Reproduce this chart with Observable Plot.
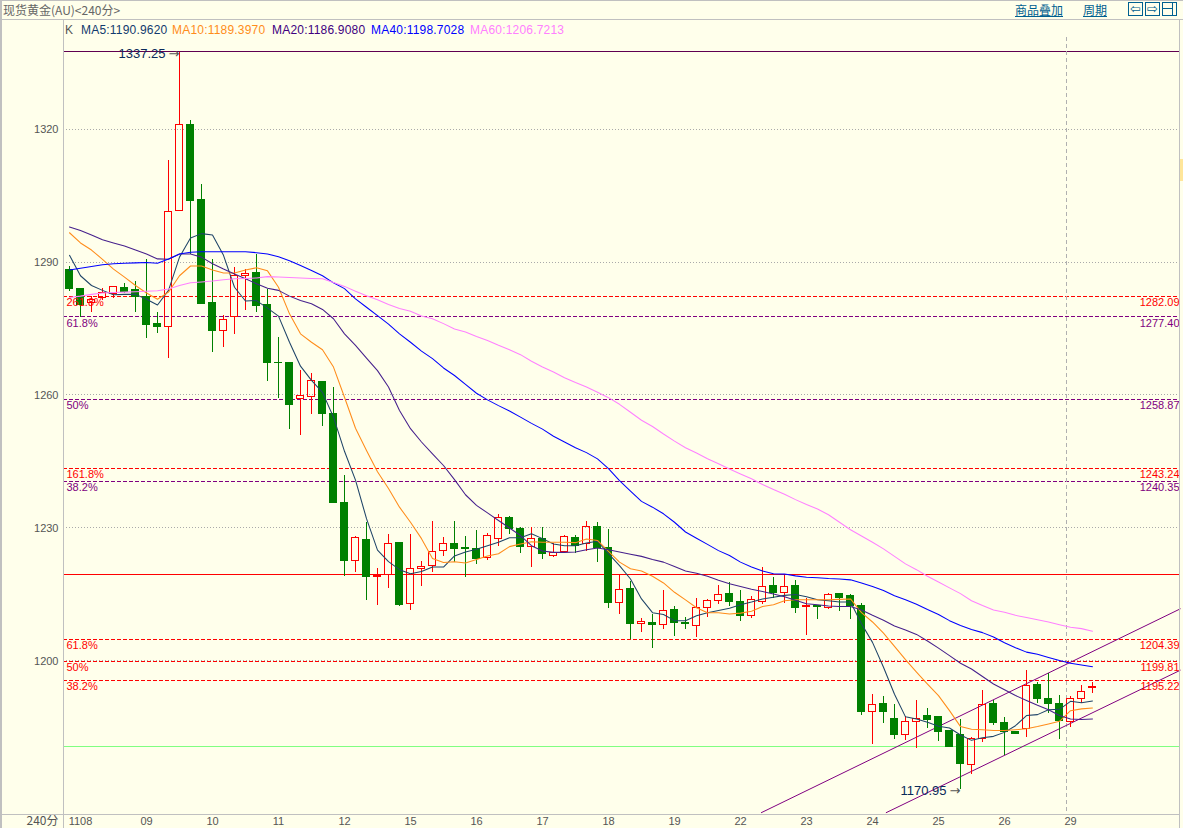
<!DOCTYPE html>
<html><head><meta charset="utf-8">
<script src="https://cdn.jsdelivr.net/npm/d3@7"></script>
<script src="https://cdn.jsdelivr.net/npm/@observablehq/plot@0.6"></script>
<style>
html,body{margin:0;padding:0;background:#ffffeb;overflow:hidden;width:1183px;height:828px;position:relative;font-family:"Liberation Sans",sans-serif}
#head{position:relative;height:19px;font-size:12px;color:#666}
.abs{position:absolute;white-space:nowrap}
.ma{position:absolute;top:23px;font-size:12px;line-height:14px;letter-spacing:.2px;white-space:nowrap}
.link{position:absolute;top:2px;font:12px/15px "Noto Sans CJK SC",sans-serif;color:#006090;text-decoration:underline}
.btn{position:absolute;top:2px;width:13px;height:12px;border:1px solid #006090;color:#006090;font:13px/12px "DejaVu Sans",sans-serif;text-align:center}
.chrome{position:absolute;background:#c0c0c0}
svg{display:block}
</style></head><body>
<div id="head">
  <span class="abs" style="left:3px;top:2px;font:12px/15px 'Noto Sans CJK SC',sans-serif;color:#666">现货黄金(AU)&lt;240分&gt;</span>
  <span class="link" style="left:1015px">商品叠加</span>
  <span class="link" style="left:1083px">周期</span>
  <div class="btn" style="left:1128px">⇦</div>
  <div class="btn" style="left:1145px">⇨</div>
  <div class="btn" style="left:1162px"><div style="position:absolute;left:0;top:5px;width:9px;height:1px;background:#006090"></div><div style="position:absolute;left:9px;top:0;width:1px;height:12px;background:#006090"></div></div>
</div>
<div id="chart"></div>
<div class="chrome" style="left:0;top:0;width:2px;height:828px"></div>
<div class="chrome" style="left:0;top:0;width:1183px;height:1px"></div>
<div class="chrome" style="left:0;top:19px;width:1183px;height:1px"></div>
<div class="chrome" style="left:63px;top:20px;width:1px;height:808px"></div>
<div class="chrome" style="left:2px;top:814px;width:1178px;height:1px"></div>
<div class="chrome" style="left:1179px;top:20px;width:1px;height:808px"></div>
<div class="chrome" style="left:1180px;top:159px;width:3px;height:22px;background:#ffe69a"></div>
<script>
const open=[1288.2,1284.0,1280.7,1281.9,1282.8,1284.2,1283.7,1282.2,1276.1,1275.3,
1301.5,1320.8,1303.9,1280.8,1274.5,1277.5,1286.8,1287.5,1280.4,1267.3,
1267.3,1259.0,1259.5,1263.0,1255.8,1235.7,1222.5,1227.2,1218.9,1219.4,
1226.6,1212.8,1220.8,1221.5,1224.8,1226.5,1225.4,1225.3,1223.2,1227.5,
1232.3,1229.7,1225.8,1227.6,1223.6,1224.6,1227.8,1226.4,1230.3,1225.5,
1213.1,1216.3,1208.4,1208.6,1208.2,1211.4,1208.5,1208.0,1211.9,1213.6,
1215.0,1213.4,1210.1,1213.4,1217.0,1215.3,1217.0,1212.1,1212.4,1211.9,
1215.0,1214.7,1212.3,1188.5,1190.4,1186.9,1183.3,1186.3,1187.5,1187.3,
1184.1,1183.4,1176.5,1182.4,1190.2,1186.1,1184.0,1184.7,1194.5,1191.5,
1190.2,1186.3,1191.5,1193.8];
const high=[1289.0,1284.0,1282.3,1284.1,1284.4,1285.2,1285.6,1290.5,1278.6,1313.0,
1337.25,1321.9,1307.5,1290.5,1278.0,1288.7,1288.4,1291.8,1283.9,1272.9,
1267.3,1265.5,1264.8,1263.0,1261.8,1241.8,1228.1,1231.3,1220.8,1228.5,
1226.8,1228.5,1222.4,1231.5,1227.9,1231.5,1228.1,1229.4,1228.8,1233.0,
1232.6,1230.0,1230.0,1230.0,1226.4,1228.3,1228.3,1231.5,1231.2,1229.6,
1219.4,1217.9,1209.6,1210.5,1216.0,1212.3,1209.7,1214.0,1213.9,1217.0,
1217.6,1216.0,1214.5,1221.0,1218.8,1219.6,1218.2,1214.2,1212.5,1215.2,
1215.0,1215.1,1212.9,1192.4,1192.1,1190.2,1187.5,1191.1,1189.3,1187.5,
1184.1,1186.7,1182.8,1193.3,1191.2,1187.2,1184.0,1197.9,1195.1,1197.2,
1192.2,1192.1,1194.5,1195.1];
const low=[1283.4,1277.5,1278.7,1281.3,1281.8,1282.8,1278.6,1272.7,1273.9,1268.3,
1301.5,1291.8,1280.5,1269.6,1270.8,1273.6,1279.1,1278.7,1263.1,1259.1,
1252.3,1250.8,1255.7,1253.0,1235.6,1219.1,1220.0,1213.6,1212.5,1216.4,
1212.3,1211.4,1216.8,1220.0,1223.6,1222.3,1218.9,1221.8,1222.7,1225.8,
1228.5,1224.3,1221.2,1222.9,1223.4,1224.2,1224.2,1224.7,1222.3,1211.9,
1210.6,1204.8,1206.5,1202.9,1207.2,1205.6,1207.2,1205.3,1209.7,1212.7,
1212.4,1208.8,1209.5,1212.8,1214.2,1213.0,1210.8,1205.8,1209.4,1211.7,
1211.2,1209.4,1187.7,1181.2,1185.9,1182.3,1182.1,1180.3,1184.7,1181.8,
1180.6,1170.95,1174.5,1181.7,1185.45,1178.7,1183.6,1182.8,1190.3,1188.2,
1182.4,1185.1,1190.5,1192.7];
const close=[1283.8,1280.4,1281.5,1283.0,1284.4,1283.3,1282.1,1275.7,1275.3,1301.3,
1320.9,1303.7,1280.5,1274.4,1276.9,1286.8,1287.3,1280.0,1267.2,1267.2,
1257.7,1259.7,1263.1,1255.7,1235.6,1222.5,1227.8,1218.9,1219.2,1226.4,
1212.7,1220.8,1221.2,1224.6,1226.4,1225.2,1225.2,1223.1,1228.2,1232.3,
1229.7,1225.7,1227.6,1224.2,1224.3,1228.0,1226.0,1230.2,1225.5,1213.0,
1216.0,1208.3,1208.8,1208.1,1211.3,1208.5,1208.3,1211.9,1213.6,1214.9,
1213.2,1210.1,1213.8,1216.7,1215.3,1216.7,1211.9,1212.4,1212.1,1214.9,
1214.3,1212.4,1188.5,1190.1,1188.4,1183.2,1186.3,1186.9,1186.6,1183.9,
1180.6,1176.7,1182.4,1190.1,1186.1,1183.9,1183.6,1194.4,1191.4,1190.2,
1186.4,1191.5,1193.0,1194.1];
const ma5=[1291.5,1286.9,1284.7,1283.6,1282.6,1282.7,1282.7,1281.6,1280.3,1283.6,
1291.1,1295.4,1296.4,1296.1,1291.5,1284.3,1281.2,1281.3,1279.6,1277.8,
1271.9,1266.5,1263.3,1260.6,1255.0,1247.3,1240.8,1232.1,1225.0,1222.4,
1220.6,1219.7,1220.2,1221.2,1221.2,1223.7,1224.6,1225.2,1226.0,1226.8,
1227.8,1227.8,1228.7,1227.6,1226.4,1226.0,1226.0,1226.6,1227.0,1224.2,
1221.5,1218.5,1214.0,1210.9,1210.5,1209.1,1209.1,1210.2,1210.9,1211.4,
1211.9,1212.7,1213.3,1214.0,1214.4,1214.8,1215.0,1214.5,1213.8,1213.6,
1213.3,1213.3,1208.4,1204.2,1198.6,1192.5,1187.4,1186.9,1186.2,1185.3,
1184.9,1183.3,1182.1,1182.7,1183.0,1183.9,1185.4,1187.7,1187.9,1189.0,
1189.1,1190.9,1190.6,1190.96];
const ma10=[1296.6,1294.3,1292.7,1290.6,1288.4,1286.6,1284.7,1283.0,1281.6,1283.2,
1286.9,1289.1,1289.1,1288.2,1287.5,1287.5,1288.2,1288.7,1288.0,1284.3,
1278.3,1273.8,1271.9,1270.2,1266.3,1259.5,1252.5,1247.5,1242.7,1238.9,
1234.7,1231.3,1227.6,1223.1,1222.2,1222.4,1222.1,1222.9,1223.7,1224.2,
1225.8,1226.4,1226.9,1226.8,1226.8,1226.8,1226.7,1227.5,1227.2,1224.7,
1222.3,1220.8,1220.3,1219.1,1217.6,1215.5,1213.8,1212.0,1210.9,1210.9,
1210.6,1210.8,1211.2,1212.3,1212.7,1213.6,1213.8,1213.8,1213.8,1213.8,
1213.9,1214.0,1210.9,1208.8,1206.3,1203.3,1200.3,1197.5,1194.8,1192.2,
1188.8,1185.2,1184.6,1184.5,1184.3,1184.3,1184.5,1184.7,1185.2,1185.8,
1186.4,1188.8,1189.2,1189.4];
const ma20=[1297.9,1297.1,1296.1,1295.0,1294.3,1293.6,1292.7,1291.8,1290.7,1290.6,
1291.8,1291.8,1291.1,1289.6,1288.4,1287.3,1286.2,1285.1,1284.1,1283.6,
1282.3,1281.3,1280.6,1279.3,1277.2,1273.8,1271.2,1268.3,1265.5,1261.8,
1256.5,1252.4,1249.4,1246.7,1244.1,1240.9,1237.5,1235.1,1233.4,1231.7,
1230.0,1228.3,1226.0,1224.8,1224.5,1224.5,1224.6,1225.1,1225.5,1225.1,
1224.6,1224.1,1223.6,1222.9,1222.3,1221.3,1220.3,1219.8,1219.1,1218.2,
1217.4,1216.8,1216.2,1215.7,1215.1,1214.5,1213.7,1212.9,1212.7,1212.4,
1212.3,1212.3,1211.5,1210.3,1209.2,1207.9,1207.0,1206.0,1204.5,1202.9,
1201.2,1199.5,1198.2,1196.5,1194.8,1193.5,1192.2,1191.1,1190.0,1189.0,
1187.7,1186.9,1186.8,1186.91];
const ma40=[1288.2,1288.6,1289.0,1289.4,1289.6,1289.7,1289.8,1289.9,1289.7,1290.7,
1291.8,1292.2,1292.3,1292.3,1292.3,1292.3,1292.3,1292.1,1291.8,1291.2,
1290.3,1289.2,1288.1,1286.9,1285.3,1284.0,1281.7,1279.8,1277.9,1276.0,
1273.8,1271.9,1269.9,1268.2,1266.1,1264.4,1262.4,1260.4,1258.9,1257.6,
1256.4,1255.0,1253.6,1252.3,1250.7,1249.4,1248.1,1247.0,1245.6,1243.4,
1240.7,1238.3,1236.0,1234.7,1233.2,1231.3,1229.1,1227.7,1226.3,1224.9,
1223.8,1222.3,1221.2,1220.3,1219.7,1219.6,1219.2,1218.9,1218.8,1218.6,
1218.5,1218.3,1217.6,1216.8,1215.9,1214.7,1213.8,1212.8,1211.6,1210.5,
1209.1,1208.0,1207.1,1206.4,1205.4,1204.1,1203.0,1202.0,1201.5,1200.8,
1200.1,1199.5,1199.1,1198.7];
const ma60=[1282.0,1282.3,1282.7,1283.0,1283.1,1283.2,1283.3,1283.4,1283.5,1283.9,
1284.7,1285.3,1285.5,1285.7,1286.0,1286.2,1286.3,1286.4,1286.7,1286.6,
1286.5,1286.4,1286.3,1286.2,1285.4,1284.5,1283.4,1282.4,1281.5,1280.4,
1279.5,1278.9,1277.8,1277.2,1276.1,1274.9,1274.2,1273.2,1272.3,1271.2,
1270.2,1269.1,1267.6,1266.3,1265.2,1263.9,1262.8,1261.8,1260.6,1259.4,
1257.9,1256.1,1254.3,1252.9,1251.2,1249.6,1248.1,1246.9,1245.6,1244.5,
1243.3,1242.2,1241.1,1239.8,1238.7,1237.6,1236.4,1235.3,1234.3,1233.0,
1231.3,1229.6,1228.2,1226.8,1225.3,1223.6,1221.9,1220.6,1219.1,1217.8,
1216.5,1215.2,1213.6,1212.5,1211.5,1211.0,1210.3,1209.8,1209.3,1208.8,
1208.2,1207.6,1207.3,1206.72];

const maNames=["MA5","MA10","MA20","MA40","MA60"];
const maValues=[ma5,ma10,ma20,ma40,ma60];
const maLatest=["1190.9620","1189.3970","1186.9080","1198.7028","1206.7213"];
const maColors=["#1f4468","#ff8c1a","#46208c","#0000ff","#ff80ff"];
const maTextColors=["#123a6e","#ff8c1a","#400080","#0000ff","#ff80ff"];
const maTextLeft=[81,172,272,371,470];

const yTicks=[1320,1290,1260,1230,1200];
const xTickIndex=[1,7,13,19,25,31,37,43,49,55,61,67,73,79,85,91];
const xTickLabels=["1108","09","10","11","12","15","16","17","18","19","22","23","24","25","26","29"];

const redLevels=[1282.2,1243.4,1204.75,1199.85,1195.5];
const redPercent=["261.8%","161.8%","61.8%","50%","38.2%"];
const redValueText=["1282.09","1243.24","1204.39","1199.81","1195.22"];
const purpleLevels=[1277.6,1258.95,1240.5];
const purplePercent=["61.8%","50%","38.2%"];
const purpleValueText=["1277.40","1258.87","1240.35"];
const topLine=1337.4, redSolid=1219.4, greenSolid=1180.65;
const upperChannel=[{i:62.9,v:1165.8},{i:100.97,v:1211.75}];
const lowerChannel=[{i:74.25,v:1165.8},{i:100.97,v:1197.9}];
const cursorIndex=90.66;
const highNote={i:10,v:1337.25,text:"1337.25"};
const lowNote={i:81,v:1170.95,text:"1170.95"};

const candles=open.map((o,i)=>({i,o,h:high[i],l:low[i],c:close[i],up:close[i]>o}));
const ups=candles.filter(d=>d.up), downs=candles.filter(d=>!d.up);
const maRows=maNames.flatMap((name,k)=>maValues[k].map((v,i)=>({name,i,v,k})));
const hw=0.3636;
const xDom=[-6/11,101], yDom=[1165.6,1340.64];
const RED="#ff0000",GREEN="#008000",PURPLE="#800080";
const F="Liberation Sans, sans-serif";
const crisp={shapeRendering:"crispEdges"};

const chart=Plot.plot({
  width:1183,height:809,
  marginLeft:63,marginRight:3,marginTop:18,marginBottom:15,
  style:{background:"transparent",overflow:"visible"},
  x:{domain:xDom},
  y:{domain:yDom},
  marks:[
    Plot.ruleY(yTicks,{stroke:"#aaaaaa",strokeWidth:1,strokeDasharray:"1,2",...crisp}),
    Plot.ruleY([topLine],{stroke:"#600050",strokeWidth:1,...crisp}),
    Plot.ruleY([redSolid],{stroke:RED,strokeWidth:1,...crisp}),
    Plot.ruleY([greenSolid],{stroke:"#80ff80",strokeWidth:1,...crisp}),
    Plot.ruleY(redLevels,{stroke:RED,strokeWidth:1,strokeDasharray:"4,2",...crisp}),
    Plot.ruleY(purpleLevels,{stroke:PURPLE,strokeWidth:1,strokeDasharray:"4,2",...crisp}),
    Plot.ruleX([cursorIndex],{stroke:"#b0b0b0",strokeWidth:1,strokeDasharray:"4,3",...crisp}),
    Plot.line(upperChannel,{x:"i",y:"v",stroke:PURPLE,strokeWidth:1}),
    Plot.line(lowerChannel,{x:"i",y:"v",stroke:PURPLE,strokeWidth:1}),
    Plot.ruleX(downs,{x:"i",y1:"l",y2:"h",stroke:GREEN,strokeWidth:1,...crisp}),
    Plot.ruleX(ups,{x:"i",y1:"c",y2:"h",stroke:RED,strokeWidth:1,...crisp}),
    Plot.ruleX(ups,{x:"i",y1:"l",y2:"o",stroke:RED,strokeWidth:1,...crisp}),
    Plot.rect(downs,{x1:d=>d.i-hw,x2:d=>d.i+hw,y1:"o",y2:"c",fill:GREEN,stroke:GREEN,strokeWidth:1,...crisp}),
    Plot.rect(ups,{x1:d=>d.i-hw,x2:d=>d.i+hw,y1:"o",y2:"c",fill:"none",stroke:RED,strokeWidth:1,...crisp}),
    ...maNames.map((name,k)=>Plot.line(maRows.filter(d=>d.k===k),{x:"i",y:"v",stroke:maColors[k],strokeWidth:1.05,curve:"linear"})),
    Plot.text(redLevels,{x:xDom[1],y:d=>d,text:(d,j)=>redValueText[j],fill:RED,textAnchor:"end",dx:-1,dy:6,fontSize:11,fontFamily:F}),
    Plot.text(purpleLevels,{x:xDom[1],y:d=>d,text:(d,j)=>purpleValueText[j],fill:PURPLE,textAnchor:"end",dx:-1,dy:6,fontSize:11,fontFamily:F}),
    Plot.text(redLevels,{x:xDom[0],y:d=>d,text:(d,j)=>redPercent[j],fill:RED,textAnchor:"start",dx:3,dy:6,fontSize:11,fontFamily:F}),
    Plot.text(purpleLevels,{x:xDom[0],y:d=>d,text:(d,j)=>purplePercent[j],fill:PURPLE,textAnchor:"start",dx:3,dy:6,fontSize:11,fontFamily:F}),
    Plot.text([highNote,lowNote],{x:"i",y:"v",text:"text",fill:"#0a2a5a",textAnchor:"end",dx:-14,dy:1,fontSize:13,fontFamily:F}),
    Plot.text([highNote,lowNote],{x:"i",y:"v",text:()=>"→",fill:"#555",textAnchor:"end",dx:0,dy:1,fontSize:13,fontFamily:"DejaVu Sans"}),
    Plot.axisY({ticks:yTicks,tickFormat:d=>String(d),tickSize:0,tickPadding:5,label:null,fontSize:11,fontFamily:F,color:"#555"}),
    Plot.axisX({ticks:xTickIndex,tickFormat:d=>xTickLabels[xTickIndex.indexOf(d)],tickSize:0,tickPadding:4,label:null,fontSize:11,fontFamily:F,color:"#555"}),
    Plot.text(["240分"],{x:xDom[0],y:yDom[0],text:d=>d,textAnchor:"end",dx:-5,dy:8,fontSize:12,fill:"#555",fontFamily:"Noto Sans CJK SC"})
  ]
});
document.getElementById("chart").append(chart);

const body=document.body;
const k=document.createElement("span");
k.className="ma";k.style.left="65px";k.style.color="#555";k.textContent="K";body.append(k);
maNames.forEach((n,j)=>{
  const s=document.createElement("span");
  s.className="ma";s.style.left=maTextLeft[j]+"px";s.style.color=maTextColors[j];
  s.textContent=n+":"+maLatest[j];body.append(s);
});
</script>
</body></html>
